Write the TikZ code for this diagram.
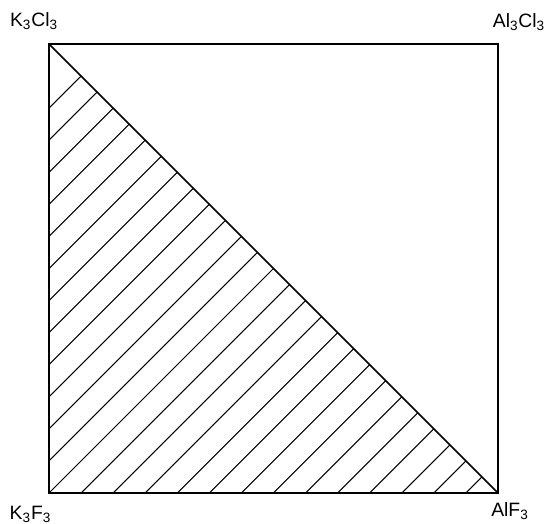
\documentclass[tikz,border=0pt]{standalone}
\usepackage{fontspec}
\setmainfont{Liberation Sans}
\usetikzlibrary{calc}

\newcommand{\side}{8.98}
\newcommand{\gap}{0.6414}

\begin{document}
\begin{tikzpicture}[
      edge/.style={line width=0.9pt, black},
      hatch/.style={line width=0.6pt, black},
      corner/.style={inner sep=0pt, font=\fontsize{11}{13}\selectfont},
  ]
  \useasboundingbox (0,0) rectangle (10.94,10.48);

  % Corners of the square
  \coordinate (kf) at (0.98,0.62);
  \coordinate (alf) at (9.96,0.62);
  \coordinate (kcl) at (0.98,9.60);
  \coordinate (alcl) at (9.96,9.60);

  % Labels
  \node[corner] (kcltext) at (0.68,10.06) {K\textsubscript{3}Cl\textsubscript{3}};
  \node[corner] (alcltext) at (10.38,10.04) {Al\textsubscript{3}Cl\textsubscript{3}};
  \node[corner] (kftext) at (0.61,0.20) {K\textsubscript{3}F\textsubscript{3}};
  \node[corner] (alftext) at (10.20,0.25) {AlF\textsubscript{3}};

  % Hatching of the lower triangle
  \foreach \j in {1,...,12}
    \draw[hatch] ($(kf)+(0,\j*\gap)$) -- ($(kf)+({(\side-\j*\gap)/2},{(\side+\j*\gap)/2})$);
  \foreach \j in {0,...,13}
    \draw[hatch] ($(kf)+(\j*\gap,0)$) -- ($(kf)+({(\side+\j*\gap)/2},{(\side-\j*\gap)/2})$);

  % Square and diagonal
  \draw[edge] (kf) -- (alf) -- (alcl) -- (kcl) -- cycle;
  \draw[edge] (kcl) -- (alf);

  \end{tikzpicture}
\end{document}
